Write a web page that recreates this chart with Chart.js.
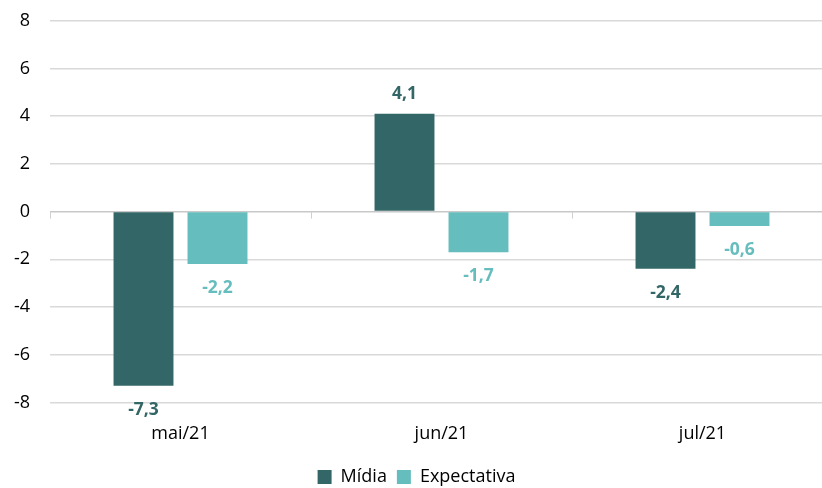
<!DOCTYPE html>
<html>
<head>
<meta charset="utf-8">
<script src="https://cdn.jsdelivr.net/npm/chart.js@4"></script>
<style>
  html, body { margin: 0; padding: 0; background: #fff; overflow: hidden; }
  #wrap { width: 836px; height: 506px; margin-top: -10px; }
</style>
</head>
<body>
<div id="wrap"><canvas id="chart"></canvas></div>
<script>
const categories = ['mai/21', 'jun/21', 'jul/21'];
const midia = [-7.3, 4.1, -2.4];
const expectativa = [-2.2, -1.7, -0.6];
const yTicks = [-8, -6, -4, -2, 0, 2, 4, 6, 8];

const DARK = '#336666';
const TEAL = '#66BDBD';
const FONT = '"Open Sans", "Noto Sans", sans-serif';

// value labels on bars (pt-BR decimal comma)
const barLabels = {
    id: 'barLabels',
    afterDatasetsDraw(chart) {
        const ctx = chart.ctx;
        ctx.save();
        ctx.font = 'bold 17.5px ' + FONT;
        ctx.textAlign = 'center';
        ctx.textBaseline = 'middle';
        chart.data.datasets.forEach((ds, i) => {
            const meta = chart.getDatasetMeta(i);
            ctx.fillStyle = ds.backgroundColor;
            meta.data.forEach((bar, j) => {
                const v = ds.data[j];
                const txt = v.toFixed(1).replace('.', ',');
                const y = v >= 0 ? bar.y - 20 : bar.y + 24;
                ctx.fillText(txt, bar.x, y);
            });
        });
        ctx.restore();
    }
};

// small tick marks under the zero line at category boundaries
const zeroTicks = {
    id: 'zeroTicks',
    afterDraw(chart) {
        const x = chart.scales.x, y = chart.scales.y;
        const y0 = y.getPixelForValue(0);
        const w = (x.right - x.left) / categories.length;
        const ctx = chart.ctx;
        ctx.save();
        ctx.strokeStyle = '#D0D0D0';
        ctx.lineWidth = 1;
        for (let i = 0; i <= categories.length; i++) {
            const px = Math.round(x.left + i * w) + 0.5;
            ctx.beginPath();
            ctx.moveTo(px, y0);
            ctx.lineTo(px, y0 + 7);
            ctx.stroke();
        }
        ctx.restore();
    }
};

new Chart(document.getElementById('chart'), {
    type: 'bar',
    data: {
        labels: categories,
        datasets: [
            { label: 'Mídia', data: midia, backgroundColor: DARK },
            { label: 'Expectativa', data: expectativa, backgroundColor: TEAL }
        ]
    },
    options: {
        responsive: true,
        maintainAspectRatio: false,
        animation: false,
        datasets: {
            bar: { categoryPercentage: 0.567, barPercentage: 0.81 }
        },
        layout: { padding: { left: 0, right: 3, top: 0, bottom: 0 } },
        scales: {
            x: {
                grid: { display: false },
                border: { display: false },
                ticks: { color: '#000', font: { family: FONT, size: 18 }, padding: 13 }
            },
            y: {
                min: -8,
                max: 8,
                afterBuildTicks: (axis) => { axis.ticks = yTicks.map(v => ({ value: v })); },
                afterFit: (axis) => { axis.width = 50; },
                grid: {
                    color: (c) => c.tick && c.tick.value === 0 ? '#C8C8C8' : '#D9D9D9',
                    lineWidth: 1.5,
                    drawTicks: false
                },
                border: { display: false },
                ticks: { color: '#000', font: { family: FONT, size: 18 }, padding: 20 }
            }
        },
        plugins: {
            legend: {
                position: 'bottom',
                labels: {
                    color: '#000',
                    font: { family: FONT, size: 18 },
                    boxWidth: 14,
                    boxHeight: 14,
                    padding: 10
                }
            },
            tooltip: { enabled: false }
        }
    },
    plugins: [barLabels, zeroTicks]
});
</script>
</body>
</html>
